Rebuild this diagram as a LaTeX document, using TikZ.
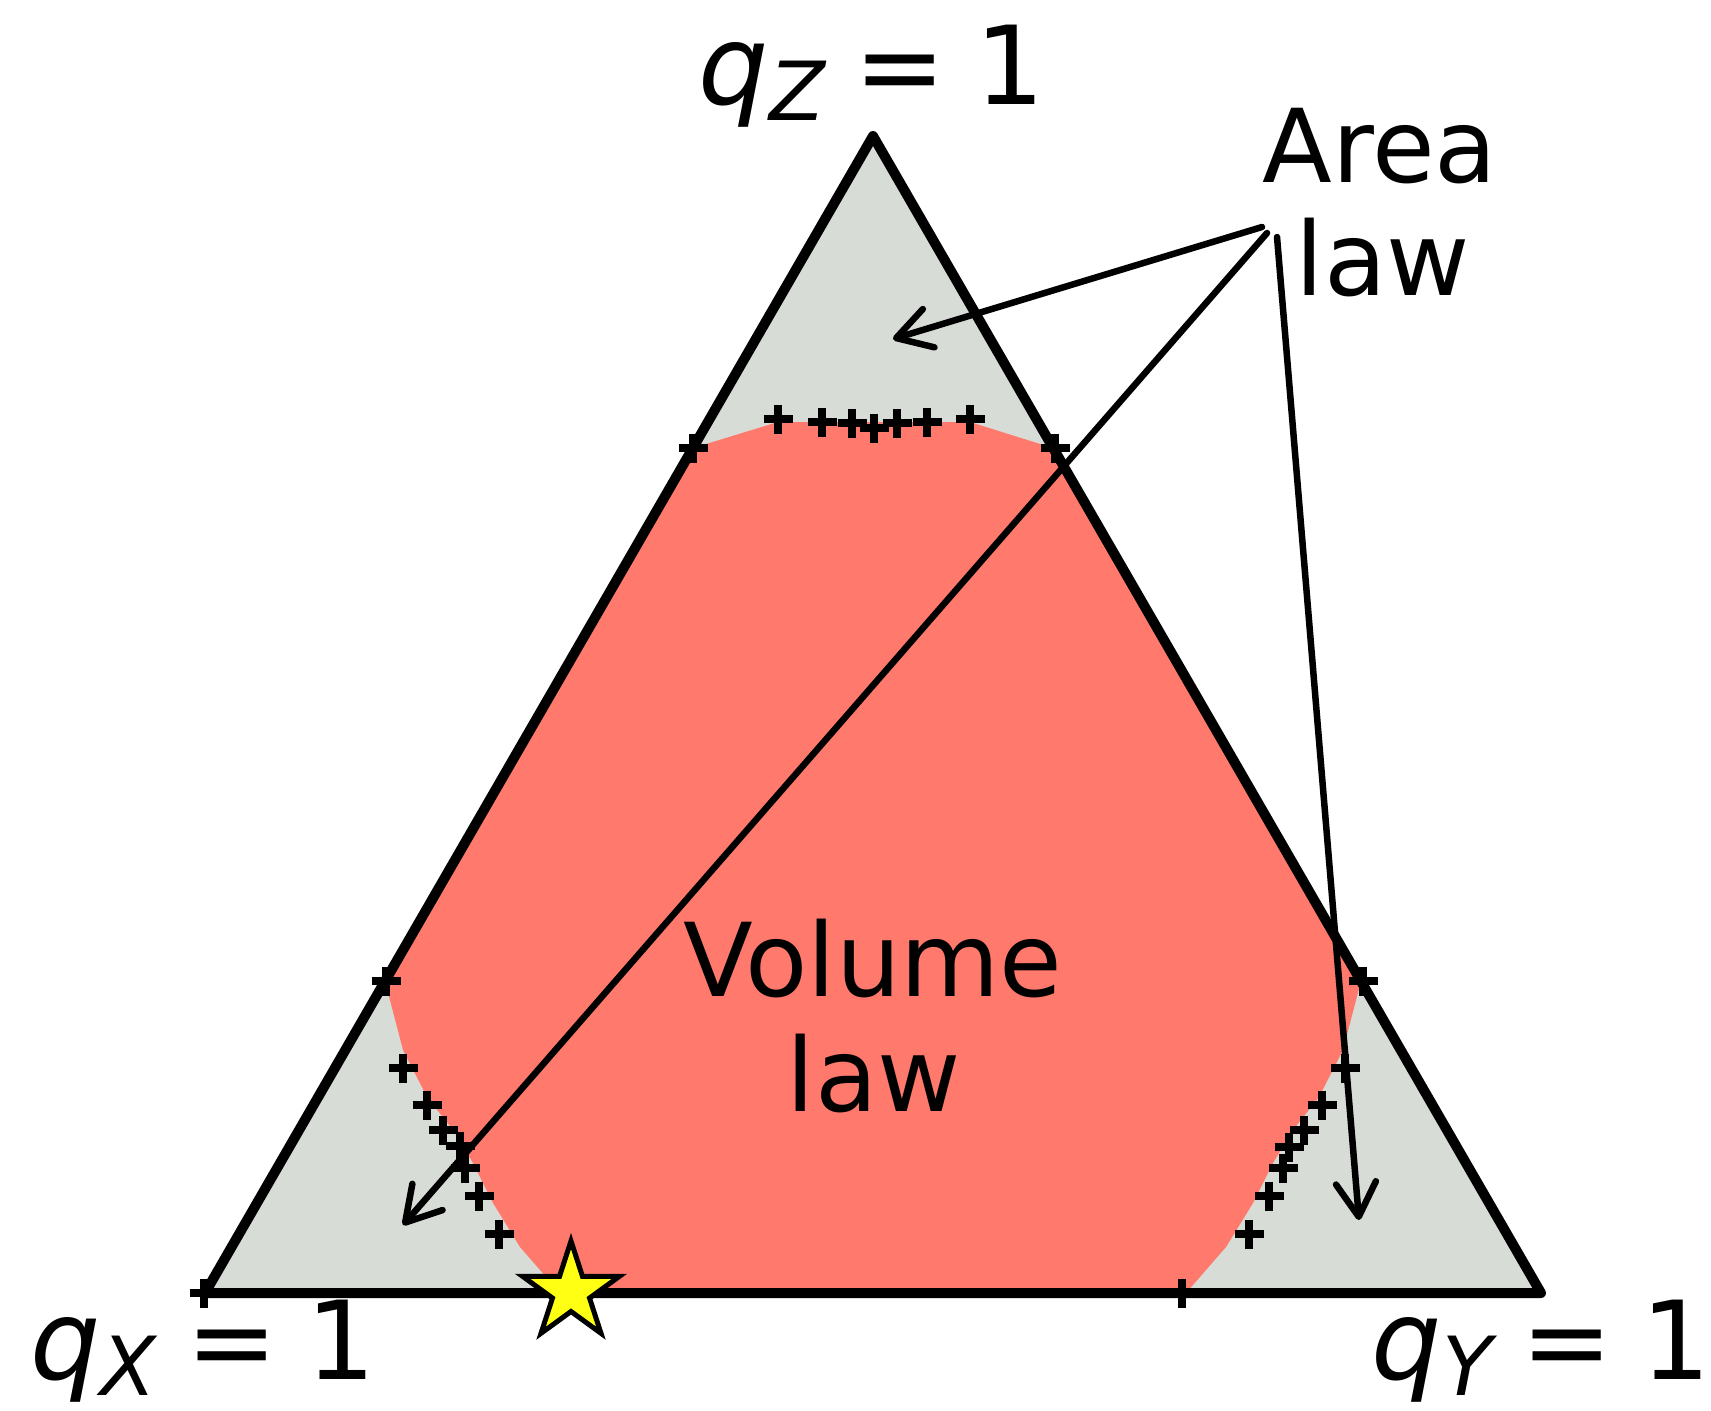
\documentclass[tikz,border=0pt]{standalone}
\usepackage{fontspec}
\setmainfont{DejaVu Sans}
\usetikzlibrary{arrows.meta,shapes.geometric}

\definecolor{areagrey}{HTML}{D8DCD6}
\definecolor{volred}{HTML}{FF796C}
\definecolor{staryel}{HTML}{FFFF14}

\newcommand{\qone}[1]{{\fontsize{31.5pt}{36pt}\selectfont\itshape q}\raisebox{-0.15em}{\fontsize{23.2pt}{25pt}\selectfont\itshape #1}\hspace{0.27em}=\hspace{0.27em}1}

\begin{document}
\begin{tikzpicture}[
	x=0.1mm, y=-0.1mm,
	edge/.style={ line width=1.0mm, line join=round },
	plusmark/.style={ line width=0.8mm },
	pointer/.style={ line width=0.65mm, line cap=round, -{Straight Barb[length=3.4mm,width=4mm,round]} },
	lbl/.style={ inner sep=0pt, font=\fontsize{29pt}{34pt}\selectfont },
	corner/.style={ inner sep=0pt, font=\fontsize{31pt}{36pt}\selectfont },
	starmark/.style={ star, star points=5, star point ratio=2.618, minimum size=10.2mm, inner sep=0pt, draw, line width=0.5mm, fill=staryel }
]
\useasboundingbox (0,0) rectangle (1711,1410);

\coordinate (X) at (205,1293);
\coordinate (Y) at (1541,1293);
\coordinate (Z) at (873,136);

% regions
\fill[areagrey] (X) -- (Y) -- (Z) -- cycle;
\fill[volred] (693,448) -- (778,422) -- (970,422) -- (1053,448) -- (1361,981)
	-- (1343,1050) -- (1319,1097) -- (1293,1130) -- (1273,1163) -- (1253,1203)
	-- (1226,1247) -- (1186,1293) -- (560,1293) -- (520,1247) -- (493,1203)
	-- (473,1163) -- (453,1130) -- (427,1097) -- (403,1050) -- (385,981) -- cycle;
\draw[edge] (X) -- (Y) -- (Z) -- cycle;

% sample points
\foreach \x/\y in {693/448, 778/419, 822/422, 852/423, 874/428, 897/423, 927/422, 970/419, 1055/448,
	386/981, 403/1068, 427/1105, 443/1130, 460/1146, 465/1168, 479/1196, 499/1234,
	1363/981, 1345/1068, 1322/1105, 1304/1130, 1289/1147, 1283/1168, 1269/1196, 1249/1234,
	204/1293, 1182/1293}
	\draw[plusmark] (\x,\y) ++(-14.5,0) -- ++(29,0) ++(-14.5,-14.5) -- ++(0,29);

% pointers from the label
\coordinate (s1) at (1262,227);
\coordinate (t1) at (893,339);
\coordinate (s2) at (1267,233);
\coordinate (t2) at (403,1225);
\coordinate (s3) at (1277,237);
\coordinate (t3) at (1359,1220);
\draw[pointer] (s1) -- (t1);
\draw[pointer] (s2) -- (t2);
\draw[pointer] (s3) -- (t3);

\node at (571,1292) (opt) [starmark] {};

% labels
\node at (873,996) (vol) [lbl,anchor=base] {Volume};
\node at (874,1111) (vlaw) [lbl,anchor=base] {law};
\node at (1380,182) (area) [lbl,anchor=base] {Area};
\node at (1383,295) (alaw) [lbl,anchor=base] {law};
\node at (1045,104) (qz) [corner,anchor=base east] {\qone{Z}};
\node at (377,1379) (qx) [corner,anchor=base east] {\qone{X}};
\node at (1712,1379) (qy) [corner,anchor=base east] {\qone{Y}};

\end{tikzpicture}
\end{document}
